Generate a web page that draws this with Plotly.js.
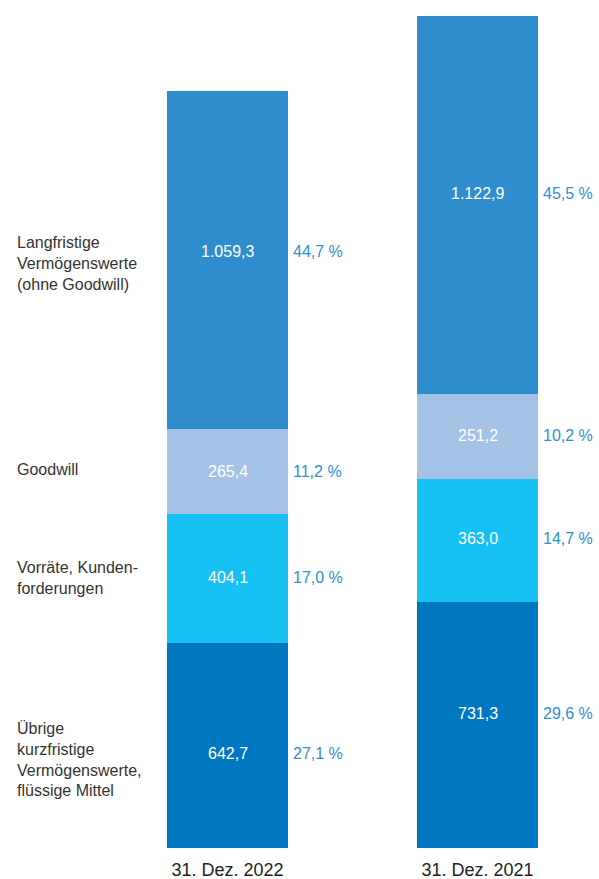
<!DOCTYPE html>
<html>
<head>
<meta charset="utf-8">
<script src="https://cdn.plot.ly/plotly-3.0.1.min.js"></script>
<style>html,body{margin:0;padding:0;background:#fff;}#chart{width:599px;height:879px;}</style>
</head>
<body>
<div id="chart"></div>
<script>
const categories = ["31. Dez. 2022", "31. Dez. 2021"];
const seriesNames = ["Übrige<br>kurzfristige<br>Vermögenswerte,<br>flüssige Mittel", "Vorräte, Kunden-<br>forderungen", "Goodwill", "Langfristige<br>Vermögenswerte<br>(ohne Goodwill)"];
const values2022 = [642.7, 404.1, 265.4, 1059.3];
const values2021 = [731.3, 363.0, 251.2, 1122.9];
const percent2022 = ["27,1 %", "17,0 %", "11,2 %", "44,7 %"];
const percent2021 = ["29,6 %", "14,7 %", "10,2 %", "45,5 %"];
const colors = ["#0077C1", "#17C1F3", "#A4C2E5", "#2F8DCD"];

const font = "Liberation Sans, Arial, Helvetica, sans-serif";
// label vertical offsets (px) as in the original layout
const shift2022 = [-8, 1, 0, 9];
const shift2021 = [11, 2, 1, 12];
const nameShift = [-14, 0, 2, -3];

const traces = [];
const annotations = [];
const fmt = v => {
  const s = v.toFixed(1).split(".");
  return s[0].replace(/\B(?=(\d{3})+(?!\d))/g, ".") + "," + s[1];
};

function addBar(cat, vals, pcts, yaxis, shifts) {
  let cum = 0;
  vals.forEach((v, i) => {
    traces.push({
      type: "bar", x: [cat], y: [v], yaxis: yaxis, width: 0.484,
      marker: {color: colors[i], line: {width: 0}},
      hoverinfo: "skip", showlegend: false
    });
    annotations.push({
      x: cat, xref: "x", y: cum + v / 2, yref: yaxis, text: fmt(v), yshift: shifts[i],
      xanchor: "center", showarrow: false,
      font: {color: "#ffffff", size: 16, family: font}
    });
    annotations.push({
      x: cat, xref: "x", y: cum + v / 2, yref: yaxis, text: pcts[i], yshift: shifts[i],
      xanchor: "left", xshift: 63, showarrow: false,
      font: {color: "#2E8FD2", size: 16, family: font}
    });
    if (yaxis === "y") {
      annotations.push({
        x: 15 / 599, xref: "paper", y: cum + v / 2, yref: "y", text: seriesNames[i], yshift: nameShift[i],
        xanchor: "left", align: "left", showarrow: false,
        font: {color: "#333333", size: 16, family: font}
      });
    }
    cum += v;
  });
  return cum;
}
const total2022 = addBar(categories[0], values2022, percent2022, "y", shift2022);
const total2021 = addBar(categories[1], values2021, percent2021, "y2", shift2021);

const layout = {
  width: 599, height: 879,
  margin: {l: 0, r: 0, t: 16, b: 31},
  paper_bgcolor: "#fff", plot_bgcolor: "#fff",
  barmode: "stack", separators: ",.",
  xaxis: {type: "category", range: [-0.91, 1.486], showgrid: false, zeroline: false, showline: false,
          ticks: "", ticklabelstandoff: 9, tickfont: {size: 18, color: "#222222", family: font}},
  yaxis: {range: [0, total2022 / 0.9099], visible: false, showgrid: false, zeroline: false},
  yaxis2: {range: [0, total2021], overlaying: "y", visible: false, showgrid: false, zeroline: false},
  annotations: annotations
};
Plotly.newPlot("chart", traces, layout, {staticPlot: true, displayModeBar: false});
</script>
</body>
</html>
